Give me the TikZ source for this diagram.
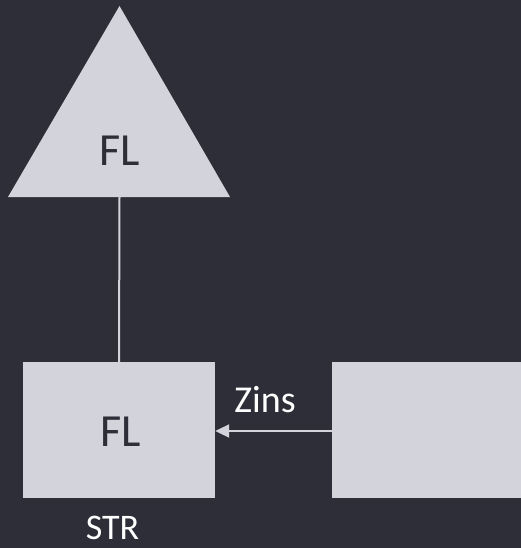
\documentclass[tikz,border=0pt]{standalone}
\usepackage{fontspec}
\setmainfont{Carlito}
\usetikzlibrary{arrows.meta}
\definecolor{bg}{HTML}{2E2E38}
\definecolor{shape}{HTML}{D3D3DC}
\definecolor{lbl}{HTML}{FFFFFF}
\tikzset{
  shp/.style={fill=shape, draw=none},
  conn/.style={draw=shape, line width=2pt},
  dark/.style={text=bg, font=\fontsize{46}{46}\selectfont, inner sep=0pt},
  light/.style={text=lbl, font=\fontsize{38}{38}\selectfont, inner sep=0pt}
}
\begin{document}
\begin{tikzpicture}[x=1pt,y=-1pt]
\fill[bg] (0,0) rectangle (521,548);
\useasboundingbox (0,0) rectangle (521,548);
\fill[shp] (119.5,6) -- (230,197) -- (8,197) -- cycle;
\coordinate (tribase) at (119.5,197);
\node[dark] (fl1) at (120,150.5) {FL};
\node[shp, minimum width=192pt, minimum height=136pt, inner sep=0pt] (box1) at (119,430) {};
\node[dark] (fl2) at (121,431.5) {FL};
\node[shp, minimum width=189pt, minimum height=136pt, inner sep=0pt] (box2) at (426.5,430) {};
\draw[conn] (tribase) -- (box1.north);
\draw[conn, -{Triangle[length=14pt,width=13pt]}] (box2.west |- 0,431) -- (box1.east |- 0,431);
\node[light] (zins) at (265,400) {Zins};
\node[light, font=\fontsize{36}{36}\selectfont] (str) at (112.5,528) {STR};
\end{tikzpicture}
\end{document}
